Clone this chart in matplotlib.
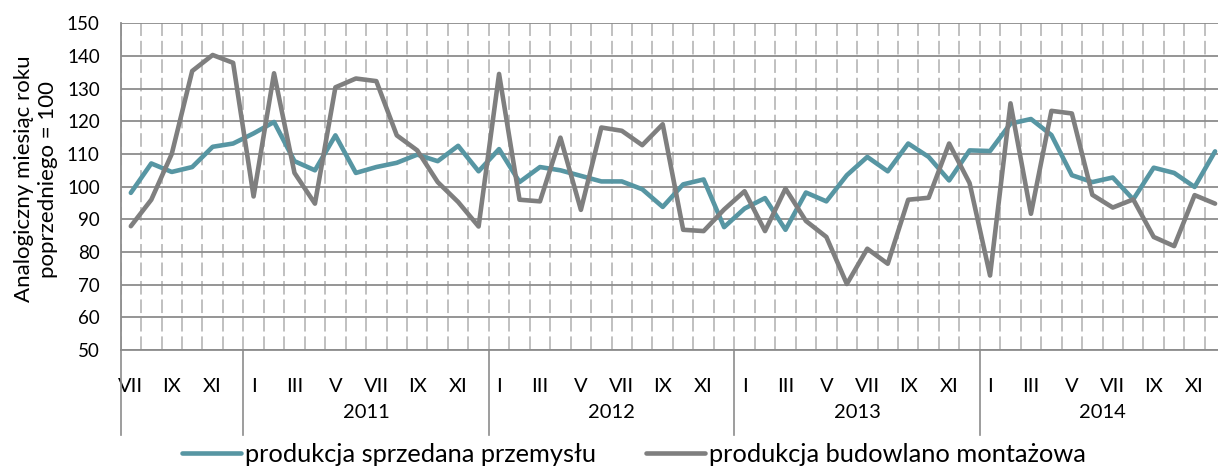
import matplotlib
matplotlib.use("Agg")
import matplotlib.pyplot as plt
from matplotlib.lines import Line2D
import numpy as np

plt.rcParams['font.family'] = ['Lato', 'DejaVu Sans']

# Months: VII 2010 .. XII 2014
month_names = ["I", "II", "III", "IV", "V", "VI", "VII", "VIII", "IX", "X", "XI", "XII"]
start_month = 7
years = ["", "2011", "2012", "2013", "2014"]
year_lengths = [6, 12, 12, 12, 12]

industry = [98.1, 107.1, 104.5, 106.0, 112.2, 113.2,
            116.3, 119.8, 107.8, 105.0, 115.7, 104.2, 106.0, 107.3, 109.8, 107.8, 112.5, 104.7,
            111.5, 101.4, 106.0, 105.0, 103.3, 101.6, 101.6, 99.2, 93.8, 100.7, 102.2, 87.6,
            93.3, 96.5, 86.8, 98.2, 95.5, 103.5, 109.1, 104.7, 113.2, 109.1, 101.9, 111.1,
            110.9, 119.3, 120.7, 115.8, 103.5, 101.4, 102.8, 96.1, 105.8, 104.2, 99.9, 110.8]
construction = [87.9, 96.0, 110.0, 135.4, 140.3, 137.9,
                97.0, 134.7, 104.2, 94.8, 130.4, 133.1, 132.3, 115.7, 111.1, 101.4, 95.3, 87.8,
                134.5, 96.0, 95.5, 115.0, 92.9, 118.1, 117.1, 112.7, 119.1, 86.8, 86.4, 93.0,
                98.6, 86.4, 99.4, 89.5, 84.6, 70.2, 81.0, 76.4, 96.0, 96.6, 113.2, 101.1,
                72.8, 125.5, 91.7, 123.2, 122.4, 97.5, 93.6, 96.1, 84.6, 81.8, 97.4, 94.8]

series_names = ["produkcja sprzedana przemysłu", "produkcja budowlano montażowa"]
colors = ["#5796A3", "#7F7F7F"]

W, H = 1218, 468
fig = plt.figure(figsize=(W / 100, H / 100), dpi=100)
left, right, top, bottom = 120.6, 1225.3, 23.3, 350.0
ax = fig.add_axes([left / W, 1 - bottom / H, (right - left) / W, (bottom - top) / H])

n = len(industry)
x = np.arange(n)
for vals, c, name in zip([industry, construction], colors, series_names):
    ax.plot(x, vals, color=c, lw=3.3, solid_joinstyle='round', solid_capstyle='round',
            label=name, zorder=3)

ax.set_xlim(-0.5, n - 0.5)
ax.set_ylim(50, 150)
ax.set_yticks(np.arange(50, 151, 10))
ax.yaxis.grid(True, color="#8C8C8C", lw=1.3)
ax.set_xticks(np.arange(n + 1) - 0.5, minor=True)
ax.xaxis.grid(True, which='minor', color="#C0C0C0", lw=1.4, linestyle=(0, (7, 2.5)))
ax.set_axisbelow(True)

months = [month_names[(start_month - 1 + i) % 12] for i in range(n)]
tick_pos = [i for i in range(n) if i % 2 == 0]
ax.set_xticks(tick_pos)
ax.set_xticklabels([months[i] for i in tick_pos], fontsize=14.5)
ax.tick_params(axis='x', which='both', length=0, pad=20)
ax.tick_params(axis='y', length=0, labelsize=13.5, pad=15)

for s in ['top', 'right']:
    ax.spines[s].set_visible(False)
for s in ['left', 'bottom']:
    ax.spines[s].set_color("#8C8C8C")
    ax.spines[s].set_linewidth(1.3)

# year group separators and labels
trans = ax.get_xaxis_transform()
sep_depth = -(435 - 350) / (bottom - top)
pos = -0.5
ax.add_line(Line2D([pos, pos], [0, sep_depth], transform=trans, color="#8C8C8C", lw=1.2, clip_on=False))
for yl, ln in zip(years, year_lengths):
    start = pos
    pos = pos + ln
    ax.add_line(Line2D([pos, pos], [0, sep_depth], transform=trans, color="#8C8C8C", lw=1.2, clip_on=False))
    if yl:
        ax.text((start + pos) / 2, -(412 - 350) / (bottom - top), yl, transform=trans,
                ha='center', va='center', fontsize=14.5)

fig.text(36 / W, 1 - 179 / H, "Analogiczny miesiąc roku\npoprzedniego = 100", rotation=90,
         ha='center', va='center', multialignment='center', fontsize=16, linespacing=1.2)

fig.legend(loc='center', bbox_to_anchor=(634 / W, 1 - 454 / H), ncol=2, frameon=False,
           fontsize=18.3, handlelength=2.3, handletextpad=0.15, columnspacing=2.0,
           borderaxespad=0, borderpad=0)

fig.savefig("out.png", dpi=100)
